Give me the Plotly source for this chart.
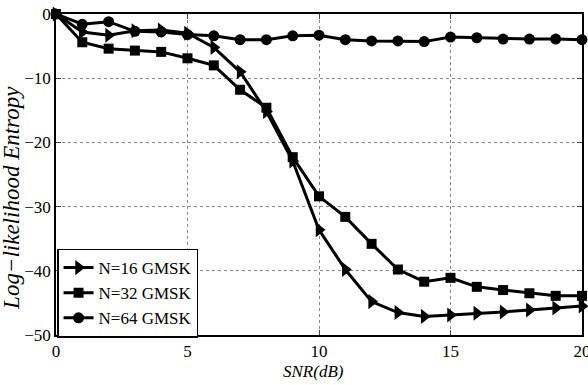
import plotly.graph_objects as go

snr = list(range(0, 21))
n16 = [0, -2.8, -3.3, -2.6, -2.5, -3.0, -5.2, -9.0, -15.2, -22.9, -33.6, -39.8, -44.8, -46.5, -47.1, -46.9, -46.6, -46.4, -46.1, -45.8, -45.5]
n32 = [0, -4.4, -5.4, -5.7, -5.9, -6.9, -8.0, -11.8, -14.6, -22.3, -28.4, -31.6, -35.8, -39.8, -41.7, -41.1, -42.5, -43.0, -43.5, -43.9, -43.9]
n64 = [0, -1.6, -1.2, -2.7, -2.8, -3.2, -3.4, -4.0, -4.0, -3.4, -3.3, -4.0, -4.2, -4.2, -4.3, -3.6, -3.7, -3.9, -3.9, -3.9, -4.0]
names = ["N=16 GMSK", "N=32 GMSK", "N=64 GMSK"]
symbols = ["triangle-right", "square", "circle"]
sizes = [13, 10, 11]

xticks = [0, 5, 10, 15, 20]
yticks = [0, -10, -20, -30, -40, -50]
yticklabels = ["0", "−10", "−20", "−30", "−40", "−50"]

fig = go.Figure()
for ys, nm, sym, sz in zip([n16, n32, n64], names, symbols, sizes):
    fig.add_trace(go.Scatter(x=snr, y=ys, name=nm, mode="lines+markers",
                             line=dict(color="black", width=3),
                             marker=dict(symbol=sym, size=sz, color="black"),
                             cliponaxis=False))

font = "Liberation Serif, Times New Roman, serif"
fig.update_layout(
    width=588, height=385,
    margin=dict(l=56, r=6, t=14, b=50),
    paper_bgcolor="white", plot_bgcolor="white",
    font=dict(family=font, size=16, color="black"),
    showlegend=True,
    legend=dict(x=0.002, y=-0.008, xanchor="left", yanchor="bottom",
                bgcolor="white", bordercolor="black", borderwidth=1.5,
                font=dict(family=font, size=17, color="black"),
                tracegroupgap=0),
    annotations=[
        dict(text="<i>Log−likelihood Entropy</i>", xref="paper", yref="paper",
             x=-0.0837, y=0.427, textangle=-90, showarrow=False,
             xanchor="center", yanchor="middle",
             font=dict(family=font, size=23, color="black")),
        dict(text="<i>SNR(dB)</i>", xref="paper", yref="paper",
             x=0.489, y=-0.115, showarrow=False,
             xanchor="center", yanchor="middle",
             font=dict(family=font, size=17, color="black")),
    ],
)
fig.update_xaxes(range=[0, 20], tickvals=xticks, ticks="inside", ticklen=5,
                 showline=True, linecolor="black", linewidth=1.5, mirror="ticks",
                 showgrid=True, gridcolor="#888888", griddash="dot", gridwidth=1,
                 zeroline=False, tickfont=dict(family=font, size=17),
                 automargin=False, ticklabeloverflow="allow")
fig.update_yaxes(range=[-50, 0], tickvals=yticks, ticktext=yticklabels,
                 ticks="inside", ticklen=5,
                 showline=True, linecolor="black", linewidth=1.5, mirror="ticks",
                 showgrid=True, gridcolor="#888888", griddash="dot", gridwidth=1,
                 zeroline=False, tickfont=dict(family=font, size=17),
                 automargin=False, ticklabeloverflow="allow")
fig.write_html("out.html", config={"displayModeBar": False},
               post_script="document.body.style.margin='0';")
